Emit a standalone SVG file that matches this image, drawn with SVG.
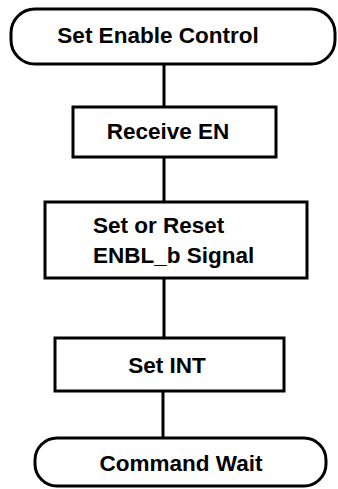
<svg xmlns="http://www.w3.org/2000/svg" width="338" height="489" viewBox="0 0 338 489">
<style>
.n{fill:#fff;stroke:#000;stroke-width:3}
.c{stroke:#000;stroke-width:3;fill:none}
text{font-family:"Liberation Sans",Arial,sans-serif;font-weight:bold;font-size:22.5px;fill:#000}
.m{text-anchor:middle}
</style>
<rect width="338" height="489" fill="#fff"/>
<g id="connectors">
<line class="c" x1="164" y1="64" x2="164" y2="107"/>
<line class="c" x1="164" y1="157" x2="164" y2="202"/>
<line class="c" x1="164" y1="278" x2="164" y2="338"/>
<line class="c" x1="163" y1="391" x2="163" y2="438"/>
</g>
<g id="start">
<rect class="n" x="11" y="9" width="324" height="55" rx="24"/>
<text class="m" x="158" y="43">Set Enable Control</text>
</g>
<g id="receive">
<rect class="n" x="73" y="107" width="203" height="50"/>
<text class="m" x="168" y="139">Receive EN</text>
</g>
<g id="setreset">
<rect class="n" x="45" y="202" width="262" height="76"/>
<text x="93" y="233">Set or Reset</text>
<text x="93" y="263">ENBL_b Signal</text>
</g>
<g id="setint">
<rect class="n" x="55" y="338" width="229" height="53"/>
<text class="m" x="167" y="373">Set INT</text>
</g>
<g id="wait">
<rect class="n" x="35" y="438" width="291" height="48" rx="22"/>
<text class="m" x="181" y="471">Command Wait</text>
</g>
</svg>
